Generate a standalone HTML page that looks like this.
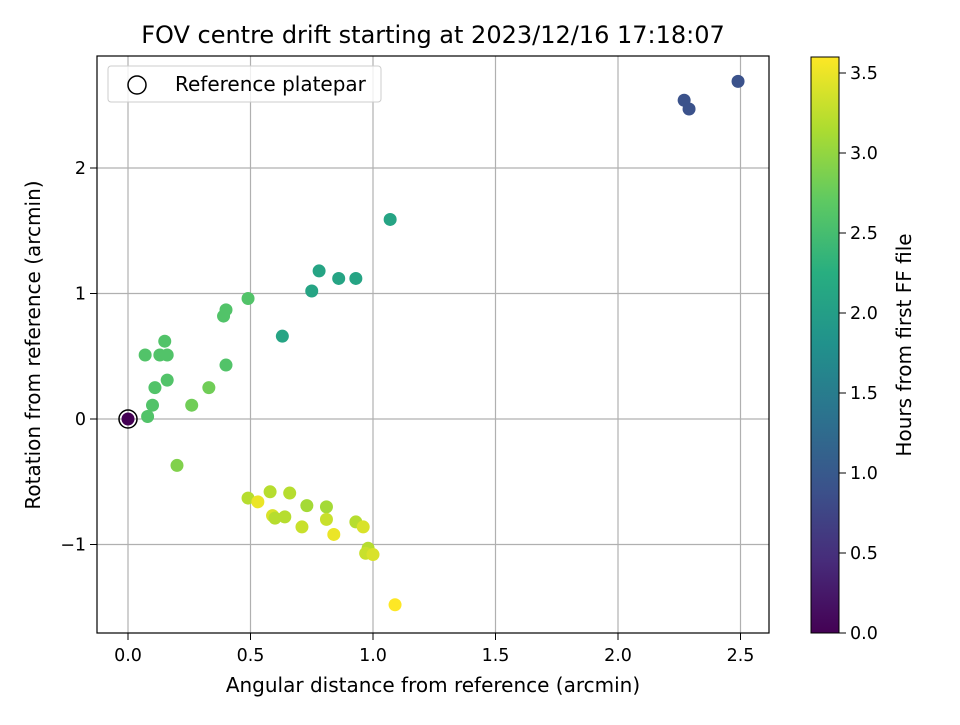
<!DOCTYPE html>
<html><head><meta charset="utf-8"><style>
body{margin:0;background:#fff;}
svg text{font-family:"DejaVu Sans","Liberation Sans",sans-serif;fill:#000;}
</style></head><body>
<svg id="chart" width="960" height="720" viewBox="0 0 960 720" xmlns="http://www.w3.org/2000/svg">
<defs>
<linearGradient id="vir" x1="0" y1="1" x2="0" y2="0">
<stop offset="0" stop-color="#440154"/><stop offset="0.125" stop-color="#472c7a"/><stop offset="0.25" stop-color="#3b528b"/><stop offset="0.375" stop-color="#2c728e"/><stop offset="0.5" stop-color="#21918c"/><stop offset="0.625" stop-color="#28ae80"/><stop offset="0.75" stop-color="#5ec962"/><stop offset="0.875" stop-color="#addc30"/><stop offset="1" stop-color="#fde725"/>
</linearGradient>
</defs>
<text x="433" y="43" font-size="24" text-anchor="middle">FOV centre drift starting at 2023/12/16 17:18:07</text>
<g id="grid"></g>
<g id="pts"></g>
<rect x="97" y="56" width="672" height="577" fill="none" stroke="#000" stroke-width="1.2"/>
<g id="ticks"></g>
<text x="433" y="692" font-size="20" text-anchor="middle">Angular distance from reference (arcmin)</text>
<text transform="translate(40,345) rotate(-90)" font-size="20" text-anchor="middle">Rotation from reference (arcmin)</text>
<g>
<rect x="108" y="66" width="273" height="36" rx="3" fill="#fff" fill-opacity="0.8" stroke="#ccc"/>
<circle cx="137" cy="85" r="9" fill="#fff" stroke="#000" stroke-width="1.5"/>
<text x="175" y="91" font-size="20">Reference platepar</text>
</g>
<rect x="811" y="57" width="28" height="576" fill="url(#vir)" stroke="#000" stroke-width="1"/>
<g id="cbticks"></g>
<text transform="translate(911,345) rotate(-90)" font-size="20" text-anchor="middle">Hours from first FF file</text>
</svg>
<script>
const xs=[0,2.49,2.27,2.29,1.07,0.78,0.75,0.86,0.93,0.63,0.49,0.40,0.39,0.40,0.15,0.07,0.13,0.16,0.16,0.11,0.10,0.08,0.26,0.33,0.20,0.49,0.53,0.58,0.66,0.59,0.60,0.64,0.73,0.81,0.71,0.81,0.84,0.93,0.96,0.98,0.97,1.0,1.09];
const ys=[0,2.69,2.54,2.47,1.59,1.18,1.02,1.12,1.12,0.66,0.96,0.87,0.82,0.43,0.62,0.51,0.51,0.51,0.31,0.25,0.11,0.02,0.11,0.25,-0.37,-0.63,-0.66,-0.58,-0.59,-0.77,-0.79,-0.78,-0.69,-0.70,-0.86,-0.80,-0.92,-0.82,-0.86,-1.03,-1.07,-1.08,-1.48];
const hours=[0,0.9,0.9,0.9,2.1,2.1,2.1,2.1,2.1,2.1,2.6,2.6,2.6,2.6,2.6,2.6,2.6,2.6,2.6,2.6,2.6,2.6,2.8,2.8,2.9,3.2,3.5,3.2,3.2,3.4,3.2,3.2,3.1,3.1,3.3,3.3,3.5,3.2,3.4,3.2,3.3,3.4,3.6];
const xTicks=[0,0.5,1.0,1.5,2.0,2.5];
const xTickLabels=["0.0","0.5","1.0","1.5","2.0","2.5"];
const yTicks=[-1,0,1,2];
const yTickLabels=["\u22121","0","1","2"];
const cTicks=[0,0.5,1,1.5,2,2.5,3,3.5];
const cTickLabels=["0.0","0.5","1.0","1.5","2.0","2.5","3.0","3.5"];
const X=v=>128+v*245, Y=v=>419-v*125.5, C=v=>633-v*160, VMAX=3.6;
const vs=[[68,1,84],[71,44,122],[59,82,139],[44,114,142],[33,145,140],[40,174,128],[94,201,98],[173,220,48],[253,231,37]];
function vir(t){t=Math.max(0,Math.min(1,t))*8;const i=Math.min(7,Math.floor(t)),f=t-i;const a=vs[i],b=vs[i+1];return 'rgb('+a.map((c,k)=>Math.round(c+(b[k]-c)*f)).join(',')+')';}
const NS="http://www.w3.org/2000/svg";
function mk(tag,attrs,parent,txt){const e=document.createElementNS(NS,tag);for(const k in attrs)e.setAttribute(k,attrs[k]);if(txt!==undefined)e.textContent=txt;document.getElementById(parent).appendChild(e);return e;}
xTicks.forEach((v,i)=>{
 let g=mk('line',{x1:X(v),x2:X(v),y1:56,y2:633,stroke:'#b0b0b0','stroke-width':1.2},'grid');
 
 
 let t=mk('line',{x1:X(v),x2:X(v),y1:633,y2:640,stroke:'#000'},'ticks');
 
 
 let l=mk('text',{x:X(v),y:661,'font-size':17.5,'text-anchor':'middle'},'ticks',xTickLabels[i]);
 
 
});
yTicks.forEach((v,i)=>{
 let g=mk('line',{x1:97,x2:769,y1:Y(v),y2:Y(v),stroke:'#b0b0b0','stroke-width':1.2},'grid');
 
 
 let t=mk('line',{x1:90,x2:97,y1:Y(v),y2:Y(v),stroke:'#000'},'ticks');
 
 
 let l=mk('text',{x:86,y:Y(v)+6,'font-size':17.5,'text-anchor':'end'},'ticks',yTickLabels[i]);
 
 
});
cTicks.forEach((v,i)=>{
 let t=mk('line',{x1:839,x2:846,y1:C(v),y2:C(v),stroke:'#000'},'cbticks');
 
 
 let l=mk('text',{x:850,y:C(v)+6,'font-size':17.5},'cbticks',cTickLabels[i]);
 
 
});
xs.forEach((v,i)=>{
 let p=mk('circle',{cx:X(v),cy:Y(ys[i]),r:6.5,fill:vir(hours[i]/VMAX)},'pts');
 
 
});
let ref=mk('circle',{cx:X(0),cy:Y(0),r:9,fill:'none',stroke:'#000','stroke-width':1.5},'pts');


</script>
</body></html>
